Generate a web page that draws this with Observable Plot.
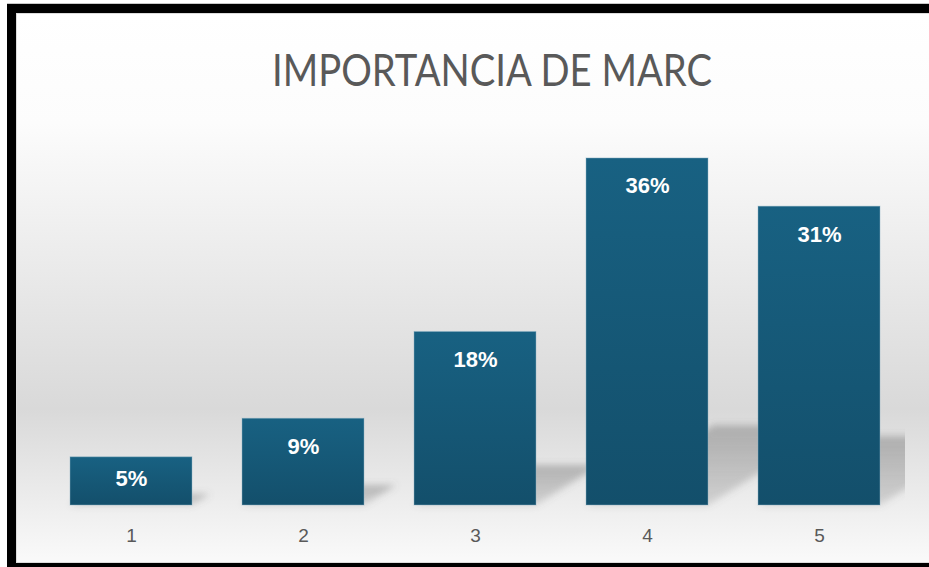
<!DOCTYPE html>
<html><head><meta charset="utf-8">
<script src="https://cdn.jsdelivr.net/npm/d3@7"></script>
<script src="https://cdn.jsdelivr.net/npm/@observablehq/plot@0.6"></script>
<style>
html,body{margin:0;padding:0;width:929px;height:567px;overflow:hidden;background:#fff;}
#frame{position:absolute;left:7px;top:4px;width:990px;height:568px;box-sizing:border-box;border:9px solid #000;
 background:linear-gradient(to bottom,#ffffff 0%,#fcfcfc 20%,#d9d9d9 72%,#fafafa 100%);
 box-shadow: inset 0 0 0 1px #dcdcdc, 0 -1px 0 #c8c8c8;}
#title{position:absolute;left:0;top:0;}
#chart{position:absolute;left:0;top:0;}
</style></head><body>
<div id="frame"></div>
<svg id="title" width="929" height="110"></svg>
<div id="chart"></div>
<script>
const chartTitle = "IMPORTANCIA DE MARC";
const categories = ["1", "2", "3", "4", "5"];
const values = [5, 9, 18, 36, 31];
const valueLabels = ["5%", "9%", "18%", "36%", "31%"];

const data = categories.map((c, i) => ({cat: c, value: values[i], label: valueLabels[i]}));

// Title
d3.select("#title").append("text")
  .attr("x", 492).attr("y", 86)
  .attr("text-anchor", "middle")
  .attr("font-family", "Lato, 'Open Sans', sans-serif")
  .attr("font-weight", 400)
  .attr("font-size", 44)
  .attr("fill", "#595959")
  .attr("textLength", 440)
  .attr("lengthAdjust", "spacingAndGlyphs")
  .text(chartTitle);

const plot = Plot.plot({
  width: 905, height: 567,
  marginLeft: 44, marginRight: 0, marginTop: 119.4, marginBottom: 62,
  style: {background: "transparent", fontFamily: "'Liberation Sans', Arial, sans-serif", overflow: "hidden"},
  x: {domain: categories, paddingInner: 0.292, paddingOuter: 0.146, axis: null},
  y: {domain: [0, 40], axis: null},
  marks: [
    Plot.barY(data, {x: "cat", y: "value", fill: "url(#shadowGrad)"}),
    Plot.barY(data, {x: "cat", y: "value", fill: "url(#barGrad)", stroke: "#8fb3c5", strokeOpacity: 0.45, strokeWidth: 1}),
    Plot.text(data, {x: "cat", y: d => Math.max(d.value - 2.9, d.value / 2 + 0.3), text: "label",
      fill: "white", fontSize: 22, fontWeight: "bold"}),
    Plot.axisX({tickSize: 0, tickPadding: 23, fontSize: 19, color: "#595959", label: null})
  ]
});

const svg = d3.select(plot);
const defs = svg.insert("defs", ":first-child");
const grad = defs.append("linearGradient").attr("id", "barGrad")
  .attr("x1", 0).attr("y1", 0).attr("x2", 0).attr("y2", 1);
grad.append("stop").attr("offset", "0%").attr("stop-color", "#186182");
grad.append("stop").attr("offset", "100%").attr("stop-color", "#134f6b");
const sgrad = defs.append("linearGradient").attr("id", "shadowGrad")
  .attr("x1", 0).attr("y1", 0).attr("x2", 0).attr("y2", 1);
sgrad.append("stop").attr("offset", "0%").attr("stop-color", "#6a6a6a").attr("stop-opacity", 0.42);
sgrad.append("stop").attr("offset", "100%").attr("stop-color", "#6a6a6a").attr("stop-opacity", 0.22);
const filt = defs.append("filter").attr("id", "blur")
  .attr("filterUnits", "userSpaceOnUse")
  .attr("x", 0).attr("y", 0).attr("width", 905).attr("height", 567);
filt.append("feGaussianBlur").attr("stdDeviation", 3.5);

const bars = plot.querySelectorAll('g[aria-label="bar"]');
const shadow = bars[0];
const Y0 = plot.scale("y").apply(0);
const k = 0.23, s = 1.6;
const NS = "http://www.w3.org/2000/svg";
const wrap = document.createElementNS(NS, "g");
wrap.setAttribute("filter", "url(#blur)");
const inner = document.createElementNS(NS, "g");
inner.setAttribute("transform", `matrix(1,0,${-k * s},${k},${k * s * Y0},${(1 - k) * Y0})`);
shadow.parentNode.insertBefore(wrap, shadow);
wrap.appendChild(inner);
inner.appendChild(shadow);

document.getElementById("chart").appendChild(plot);
</script>
</body></html>
